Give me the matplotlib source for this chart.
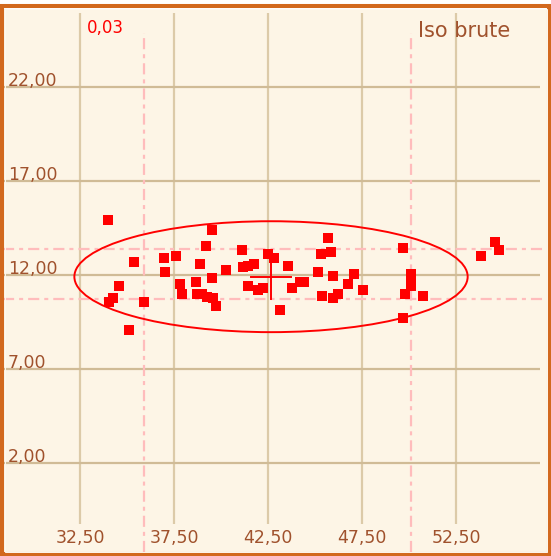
import matplotlib
matplotlib.use('Agg')
import matplotlib.pyplot as plt
from matplotlib.patches import Ellipse, Rectangle

plt.rcParams['lines.scale_dashes'] = False

# scatter values
xs = [33.97, 35.36, 36.95, 37.59, 37.04, 34.59, 34.27, 34.06, 35.89, 35.12,
      37.82, 37.93, 39.52, 39.19, 41.12, 38.88, 40.27, 41.19, 41.45, 41.76,
      39.52, 38.65, 42.48, 42.84, 43.55, 41.45, 41.98, 42.22, 38.71, 38.97,
      39.24, 39.56, 39.73, 43.14, 43.79, 44.20, 44.43, 45.71, 45.30, 45.84,
      45.18, 45.94, 47.09, 46.77, 47.54, 45.39, 45.94, 46.24, 49.70, 50.11,
      50.11, 50.11, 49.79, 50.73, 49.66, 53.85, 54.59, 54.80]
ys = [14.93, 12.68, 12.89, 13.01, 12.14, 11.40, 10.76, 10.55, 10.55, 9.06,
      11.51, 10.97, 14.39, 13.54, 13.33, 12.57, 12.27, 12.44, 12.48, 12.57,
      11.86, 11.61, 13.12, 12.89, 12.48, 11.40, 11.20, 11.29, 10.97, 10.97,
      10.85, 10.79, 10.37, 10.12, 11.29, 11.61, 11.61, 13.95, 13.10, 13.21,
      12.14, 11.95, 12.05, 11.52, 11.20, 10.88, 10.76, 10.97, 13.42, 12.05,
      11.73, 11.41, 10.99, 10.90, 9.70, 13.01, 13.77, 13.33]

xticks = [32.5, 37.5, 42.5, 47.5, 52.5]
yticks = [2, 7, 12, 17, 22]
xlabels = ['32,50', '37,50', '42,50', '47,50', '52,50']
ylabels = ['2,00', '7,00', '12,00', '17,00', '22,00']

x_bounds = [35.89, 50.11]     # pink vertical lines
y_bounds = [10.72, 13.37]     # pink horizontal lines
center = (42.66, 11.91)
ell_w, ell_h = 20.92, 5.9
cross_dx, cross_dy = 1.05, 1.2

xlim = (28.404, 57.34)
ylim = (-2.734, 26.149)

bg = '#fdf5e6'
grid_v = '#dccaa8'
grid_h = '#d0bb96'
pink = '#ffbcbc'
brown = '#a0522d'
red = '#ff0000'
dash = (0, (8, 3.6, 2.9, 3.6))

fig = plt.figure(figsize=(5.51, 5.56), dpi=100, facecolor='white')
ax = fig.add_axes([3 / 551, 4 / 556, 544 / 551, 543 / 556])
ax.set_facecolor(bg)
for s in ax.spines.values():
    s.set_visible(False)
ax.set_xticks([])
ax.set_yticks([])
ax.set_xlim(*xlim)
ax.set_ylim(*ylim)

ax.vlines(xticks, -1.24, 25.95, color=grid_v, lw=1.6, zorder=1)
ax.hlines(yticks, xlim[0], 56.97, color=grid_h, lw=1.6, zorder=1)

ax.vlines(x_bounds, ylim[0], 24.87, color=pink, lw=1.6, linestyles=[dash], zorder=2)
ax.hlines(y_bounds, xlim[0], xlim[1], color=pink, lw=1.6, linestyles=[dash], zorder=2)

ax.add_patch(Ellipse(center, ell_w, ell_h, fill=False, ec=red, lw=1.4, zorder=3))
ax.scatter(xs, ys, marker='s', s=42, c=red, linewidths=0, zorder=4)
ax.plot([center[0] - cross_dx, center[0] + cross_dx], [center[1]] * 2, color=red, lw=1.4, zorder=5)
ax.plot([center[0]] * 2, [center[1] - cross_dy, center[1] + cross_dy], color=red, lw=1.4, zorder=5)

for v, lab in zip(yticks, ylabels):
    ax.text(28.67, v + 0.05, lab, color=brown, fontsize=12.5, ha='left', va='baseline', zorder=6)
for v, lab in zip(xticks, xlabels):
    ax.text(v, -2.26, lab, color=brown, fontsize=12.5, ha='center', va='baseline', zorder=6)

ax.text(32.87, 24.87, '0,03', color=red, fontsize=12, ha='left', va='baseline', zorder=6)
ax.text(50.48, 24.66, 'Iso brute', color=brown, fontsize=15, ha='left', va='baseline', zorder=6)

# orange frame
fig.patches.append(Rectangle((2 / 551, 2 / 556), 547 / 551, 548 / 556, transform=fig.transFigure,
                             fill=False, ec='#d2691e', lw=2.9, zorder=10))
fig.patches.append(Rectangle((4.5 / 551, 4.5 / 556), 542 / 551, 543 / 556, transform=fig.transFigure,
                             fill=False, ec='#fff9f0', lw=0.7, zorder=10))

fig.savefig('out.png', dpi=100, facecolor='white')
